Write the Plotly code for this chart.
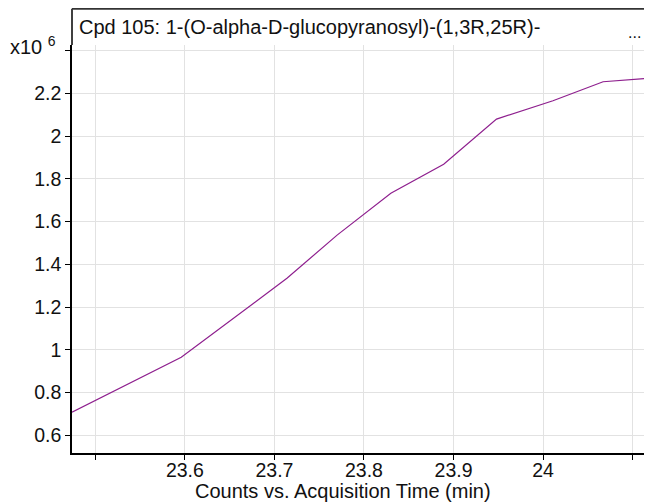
import plotly.graph_objects as go

# Counts (x10^6) vs acquisition time
time_min = [23.474, 23.596, 23.714, 23.770, 23.830, 23.889, 23.948, 24.011, 24.067, 24.125]
counts_e6 = [0.708, 0.965, 1.335, 1.537, 1.733, 1.869, 2.080, 2.166, 2.255, 2.274]

x_ticks = [23.5, 23.6, 23.7, 23.8, 23.9, 24.0, 24.1]
x_labels = ["", "23.6", "23.7", "23.8", "23.9", "24", ""]
y_ticks = [0.6, 0.8, 1.0, 1.2, 1.4, 1.6, 1.8, 2.0, 2.2, 2.4]
y_labels = ["0.6", "0.8", "1", "1.2", "1.4", "1.6", "1.8", "2", "2.2", ""]

title_text = "Cpd 105: 1-(O-alpha-D-glucopyranosyl)-(1,3R,25R)-"

font = "Arial, Liberation Sans, sans-serif"

fig = go.Figure()
fig.add_trace(go.Scatter(x=time_min, y=counts_e6, mode="lines",
                         line=dict(color="#8E1F8E", width=1.2),
                         showlegend=False, hoverinfo="x+y"))

# the page body keeps its 8px margin, so the figure is 8px smaller
top = 1.089  # frame top, above the grid area

fig.update_layout(
    width=644, height=494,
    margin=dict(l=64, r=0, t=37, b=49),
    paper_bgcolor="white", plot_bgcolor="white",
    font=dict(family=font, size=19.5, color="#111"),
    xaxis=dict(range=[23.474, 24.1216], tickvals=x_ticks, ticktext=x_labels,
               showgrid=True, gridcolor="#e2e2e2", gridwidth=1,
               showline=True, linecolor="black", linewidth=1.5,
               ticks="outside", ticklen=5, tickcolor="black",
               ticklabelstandoff=-6,
               zeroline=False, automargin=False),
    yaxis=dict(range=[0.517, 2.427], tickvals=y_ticks, ticktext=y_labels,
               showgrid=True, gridcolor="#e2e2e2", gridwidth=1,
               showline=True, linecolor="black", linewidth=1.5,
               ticks="outside", ticklen=5, tickcolor="black",
               zeroline=False, automargin=False),
    shapes=[
        dict(type="line", xref="paper", yref="paper", x0=0, x1=0, y0=1, y1=top,
             line=dict(color="black", width=1.5)),
        dict(type="line", xref="paper", yref="paper", x0=0, x1=1, y0=top, y1=top,
             line=dict(color="#333", width=2)),
    ],
    annotations=[
        dict(text=title_text, xref="paper", yref="paper", x=0.008, y=1.044,
             xanchor="left", yanchor="middle", showarrow=False,
             font=dict(size=20, color="#111")),
        dict(text="...", xref="paper", yref="paper", x=0.969, y=1.03,
             xanchor="center", yanchor="middle", showarrow=False,
             font=dict(size=16, color="#111")),
        dict(text="x10 <sup>6</sup>", xref="paper", yref="paper", x=-0.11, y=1.0,
             xanchor="left", yanchor="middle", showarrow=False,
             font=dict(size=20, color="#111")),
        dict(text="Counts vs. Acquisition Time (min)", xref="paper", yref="paper",
             x=0.467, y=-0.093, xanchor="center", yanchor="middle", showarrow=False,
             font=dict(size=20, color="#111")),
    ],
)

fig.write_html("out.html")
